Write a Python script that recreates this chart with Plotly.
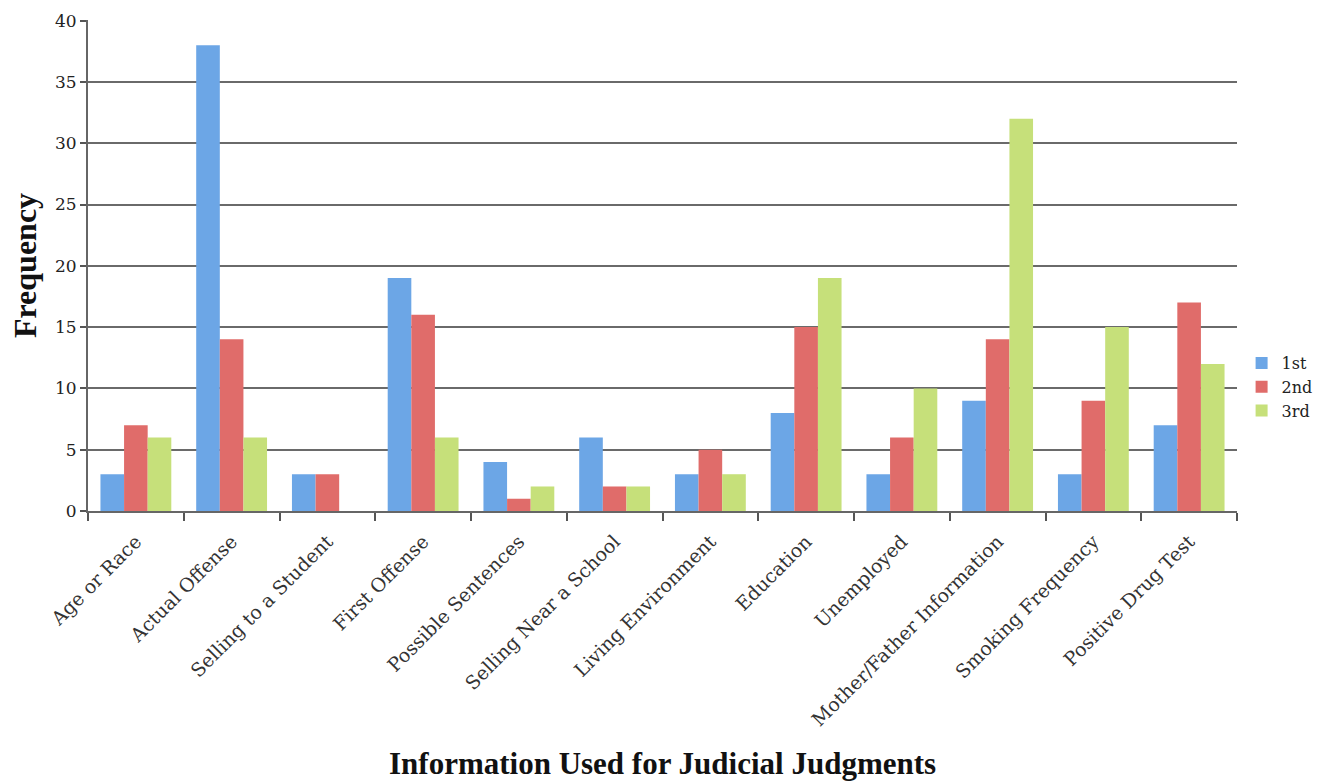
import plotly.graph_objects as go

categories = ["Age or Race", "Actual Offense", "Selling to a Student", "First Offense",
              "Possible Sentences", "Selling Near a School", "Living Environment",
              "Education", "Unemployed", "Mother/Father Information",
              "Smoking Frequency", "Positive Drug Test"]
first = [3, 38, 3, 19, 4, 6, 3, 8, 3, 9, 3, 7]
second = [7, 14, 3, 16, 1, 2, 5, 15, 6, 14, 9, 17]
third = [6, 6, 0, 6, 2, 2, 3, 19, 10, 32, 15, 12]
series_names = ["1st", "2nd", "3rd"]
colors = ["#6CA6E6", "#E06C6A", "#C6E07A"]

fig = go.Figure()
for name, vals, col in zip(series_names, [first, second, third], colors):
    fig.add_trace(go.Bar(x=categories, y=vals, name=name,
                         marker=dict(color=col, line=dict(width=0))))

fig.update_layout(
    width=1320, height=782,
    margin=dict(l=88, r=83, t=20, b=271, autoexpand=False),
    paper_bgcolor="white", plot_bgcolor="white",
    barmode="group", bargap=0.26, bargroupgap=0,
    font=dict(family="DejaVu Serif", size=17, color="#222"),
    legend=dict(x=1.004, y=0.2525, xanchor="left", yanchor="middle",
                font=dict(family="DejaVu Serif", size=16, color="#222"),
                itemwidth=30, tracegroupgap=0),
    xaxis=dict(tickangle=-45, tickson="boundaries", ticks="outside", ticklen=8,
               tickcolor="#555", tickwidth=2, showline=True, linecolor="#666", linewidth=2,
               ticklabelstandoff=10,
               tickfont=dict(family="DejaVu Serif", size=19, color="#333")),
    yaxis=dict(range=[0, 40.05], dtick=5, showgrid=True, gridcolor="#6a6a6a", gridwidth=2,
               showline=True, linecolor="#666", linewidth=2, ticks="outside", ticklen=6,
               tickcolor="#555", tickwidth=2, zeroline=False,
               tickfont=dict(family="DejaVu Serif", size=17, color="#222"),
               title=dict(text="<b>Frequency</b>",
                          font=dict(family="Liberation Serif", size=32, color="#111"),
                          standoff=9)),
    annotations=[dict(text="<b>Information Used for Judicial Judgments</b>",
                      xref="paper", yref="paper", x=0.5, y=-0.514,
                      xanchor="center", yanchor="middle", showarrow=False,
                      font=dict(family="Liberation Serif", size=31, color="#111"))],
)

fig.write_html("out.html")
